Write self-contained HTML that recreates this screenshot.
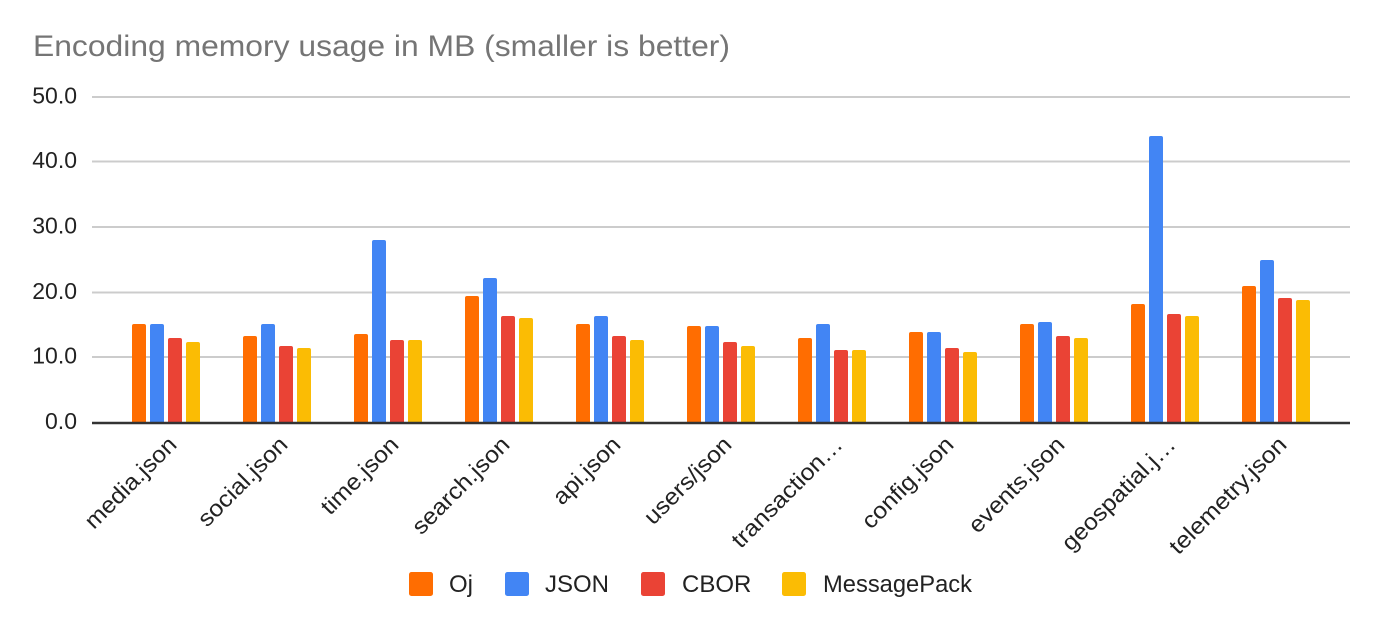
<!DOCTYPE html>
<html><head><meta charset="utf-8"><style>
html,body{margin:0;padding:0;background:#fff;}
svg{display:block;font-family:"Liberation Sans",Arial,sans-serif;}
</style></head><body>
<svg width="1382" height="628" viewBox="0 0 1382 628" xmlns="http://www.w3.org/2000/svg">
<rect width="1382" height="628" fill="#fff"/>
<text x="33" y="56" font-size="30" fill="#757575" textLength="697" lengthAdjust="spacingAndGlyphs">Encoding memory usage in MB (smaller is better)</text>
<g stroke="#cccccc" stroke-width="2">
<line x1="92" y1="97" x2="1350" y2="97"/>
<line x1="92" y1="161.5" x2="1350" y2="161.5"/>
<line x1="92" y1="227" x2="1350" y2="227"/>
<line x1="92" y1="292.5" x2="1350" y2="292.5"/>
<line x1="92" y1="357" x2="1350" y2="357"/>
</g>
<g font-size="23" fill="#222" text-anchor="end">
<text x="77" y="103.5">50.0</text>
<text x="77" y="168">40.0</text>
<text x="77" y="233.5">30.0</text>
<text x="77" y="299">20.0</text>
<text x="77" y="363.5">10.0</text>
<text x="77" y="429">0.0</text>
</g>
<g id="bars">
<!-- G1 -->
<path d="M132,423V326a2,2 0 0 1 2,-2h10a2,2 0 0 1 2,2V423Z" fill="#ff6d01"/>
<path d="M150,423V326a2,2 0 0 1 2,-2h10a2,2 0 0 1 2,2V423Z" fill="#4285f4"/>
<path d="M168,423V340a2,2 0 0 1 2,-2h10a2,2 0 0 1 2,2V423Z" fill="#ea4335"/>
<path d="M186,423V344a2,2 0 0 1 2,-2h10a2,2 0 0 1 2,2V423Z" fill="#fbbc04"/>
<!-- G2 -->
<path d="M243,423V338a2,2 0 0 1 2,-2h10a2,2 0 0 1 2,2V423Z" fill="#ff6d01"/>
<path d="M261,423V326a2,2 0 0 1 2,-2h10a2,2 0 0 1 2,2V423Z" fill="#4285f4"/>
<path d="M279,423V348a2,2 0 0 1 2,-2h10a2,2 0 0 1 2,2V423Z" fill="#ea4335"/>
<path d="M297,423V350a2,2 0 0 1 2,-2h10a2,2 0 0 1 2,2V423Z" fill="#fbbc04"/>
<!-- G3 -->
<path d="M354,423V336a2,2 0 0 1 2,-2h10a2,2 0 0 1 2,2V423Z" fill="#ff6d01"/>
<path d="M372,423V242a2,2 0 0 1 2,-2h10a2,2 0 0 1 2,2V423Z" fill="#4285f4"/>
<path d="M390,423V342a2,2 0 0 1 2,-2h10a2,2 0 0 1 2,2V423Z" fill="#ea4335"/>
<path d="M408,423V342a2,2 0 0 1 2,-2h10a2,2 0 0 1 2,2V423Z" fill="#fbbc04"/>
<!-- G4 -->
<path d="M465,423V298a2,2 0 0 1 2,-2h10a2,2 0 0 1 2,2V423Z" fill="#ff6d01"/>
<path d="M483,423V280a2,2 0 0 1 2,-2h10a2,2 0 0 1 2,2V423Z" fill="#4285f4"/>
<path d="M501,423V318a2,2 0 0 1 2,-2h10a2,2 0 0 1 2,2V423Z" fill="#ea4335"/>
<path d="M519,423V320a2,2 0 0 1 2,-2h10a2,2 0 0 1 2,2V423Z" fill="#fbbc04"/>
<!-- G5 -->
<path d="M576,423V326a2,2 0 0 1 2,-2h10a2,2 0 0 1 2,2V423Z" fill="#ff6d01"/>
<path d="M594,423V318a2,2 0 0 1 2,-2h10a2,2 0 0 1 2,2V423Z" fill="#4285f4"/>
<path d="M612,423V338a2,2 0 0 1 2,-2h10a2,2 0 0 1 2,2V423Z" fill="#ea4335"/>
<path d="M630,423V342a2,2 0 0 1 2,-2h10a2,2 0 0 1 2,2V423Z" fill="#fbbc04"/>
<!-- G6 -->
<path d="M687,423V328a2,2 0 0 1 2,-2h10a2,2 0 0 1 2,2V423Z" fill="#ff6d01"/>
<path d="M705,423V328a2,2 0 0 1 2,-2h10a2,2 0 0 1 2,2V423Z" fill="#4285f4"/>
<path d="M723,423V344a2,2 0 0 1 2,-2h10a2,2 0 0 1 2,2V423Z" fill="#ea4335"/>
<path d="M741,423V348a2,2 0 0 1 2,-2h10a2,2 0 0 1 2,2V423Z" fill="#fbbc04"/>
<!-- G7 -->
<path d="M798,423V340a2,2 0 0 1 2,-2h10a2,2 0 0 1 2,2V423Z" fill="#ff6d01"/>
<path d="M816,423V326a2,2 0 0 1 2,-2h10a2,2 0 0 1 2,2V423Z" fill="#4285f4"/>
<path d="M834,423V352a2,2 0 0 1 2,-2h10a2,2 0 0 1 2,2V423Z" fill="#ea4335"/>
<path d="M852,423V352a2,2 0 0 1 2,-2h10a2,2 0 0 1 2,2V423Z" fill="#fbbc04"/>
<!-- G8 -->
<path d="M909,423V334a2,2 0 0 1 2,-2h10a2,2 0 0 1 2,2V423Z" fill="#ff6d01"/>
<path d="M927,423V334a2,2 0 0 1 2,-2h10a2,2 0 0 1 2,2V423Z" fill="#4285f4"/>
<path d="M945,423V350a2,2 0 0 1 2,-2h10a2,2 0 0 1 2,2V423Z" fill="#ea4335"/>
<path d="M963,423V354a2,2 0 0 1 2,-2h10a2,2 0 0 1 2,2V423Z" fill="#fbbc04"/>
<!-- G9 -->
<path d="M1020,423V326a2,2 0 0 1 2,-2h10a2,2 0 0 1 2,2V423Z" fill="#ff6d01"/>
<path d="M1038,423V324a2,2 0 0 1 2,-2h10a2,2 0 0 1 2,2V423Z" fill="#4285f4"/>
<path d="M1056,423V338a2,2 0 0 1 2,-2h10a2,2 0 0 1 2,2V423Z" fill="#ea4335"/>
<path d="M1074,423V340a2,2 0 0 1 2,-2h10a2,2 0 0 1 2,2V423Z" fill="#fbbc04"/>
<!-- G10 -->
<path d="M1131,423V306a2,2 0 0 1 2,-2h10a2,2 0 0 1 2,2V423Z" fill="#ff6d01"/>
<path d="M1149,423V138a2,2 0 0 1 2,-2h10a2,2 0 0 1 2,2V423Z" fill="#4285f4"/>
<path d="M1167,423V316a2,2 0 0 1 2,-2h10a2,2 0 0 1 2,2V423Z" fill="#ea4335"/>
<path d="M1185,423V318a2,2 0 0 1 2,-2h10a2,2 0 0 1 2,2V423Z" fill="#fbbc04"/>
<!-- G11 -->
<path d="M1242,423V288a2,2 0 0 1 2,-2h10a2,2 0 0 1 2,2V423Z" fill="#ff6d01"/>
<path d="M1260,423V262a2,2 0 0 1 2,-2h10a2,2 0 0 1 2,2V423Z" fill="#4285f4"/>
<path d="M1278,423V300a2,2 0 0 1 2,-2h10a2,2 0 0 1 2,2V423Z" fill="#ea4335"/>
<path d="M1296,423V302a2,2 0 0 1 2,-2h10a2,2 0 0 1 2,2V423Z" fill="#fbbc04"/>
</g>
<line x1="92" y1="423" x2="1350" y2="423" stroke="#333333" stroke-width="2.5"/>
<g font-size="23" fill="#222" text-anchor="end">
<text transform="translate(178,446) rotate(-45)" textLength="119" lengthAdjust="spacingAndGlyphs">media.json</text>
<text transform="translate(289,446) rotate(-45)" textLength="116" lengthAdjust="spacingAndGlyphs">social.json</text>
<text transform="translate(400,446) rotate(-45)" textLength="99" lengthAdjust="spacingAndGlyphs">time.json</text>
<text transform="translate(511,446) rotate(-45)" textLength="127" lengthAdjust="spacingAndGlyphs">search.json</text>
<text transform="translate(622,446) rotate(-45)" textLength="85" lengthAdjust="spacingAndGlyphs">api.json</text>
<text transform="translate(733,446) rotate(-45)" textLength="113" lengthAdjust="spacingAndGlyphs">users/json</text>
<text transform="translate(844,446) rotate(-45)" textLength="146" lengthAdjust="spacingAndGlyphs">transaction…</text>
<text transform="translate(955,446) rotate(-45)" textLength="119" lengthAdjust="spacingAndGlyphs">config.json</text>
<text transform="translate(1066,446) rotate(-45)" textLength="125" lengthAdjust="spacingAndGlyphs">events.json</text>
<text transform="translate(1177,446) rotate(-45)" textLength="150" lengthAdjust="spacingAndGlyphs">geospatial.j…</text>
<text transform="translate(1288,446) rotate(-45)" textLength="155" lengthAdjust="spacingAndGlyphs">telemetry.json</text>
</g>
<g>
<rect x="409" y="572" width="24" height="24" rx="2.5" fill="#ff6d01"/>
<rect x="505" y="572" width="24" height="24" rx="2.5" fill="#4285f4"/>
<rect x="641" y="572" width="24" height="24" rx="2.5" fill="#ea4335"/>
<rect x="782" y="572" width="24" height="24" rx="2.5" fill="#fbbc04"/>
</g>
<g font-size="24" fill="#222">
<text x="449" y="592">Oj</text>
<text x="545" y="592">JSON</text>
<text x="682" y="592">CBOR</text>
<text x="823" y="592" textLength="149" lengthAdjust="spacingAndGlyphs">MessagePack</text>
</g>
</svg>
</body></html>
